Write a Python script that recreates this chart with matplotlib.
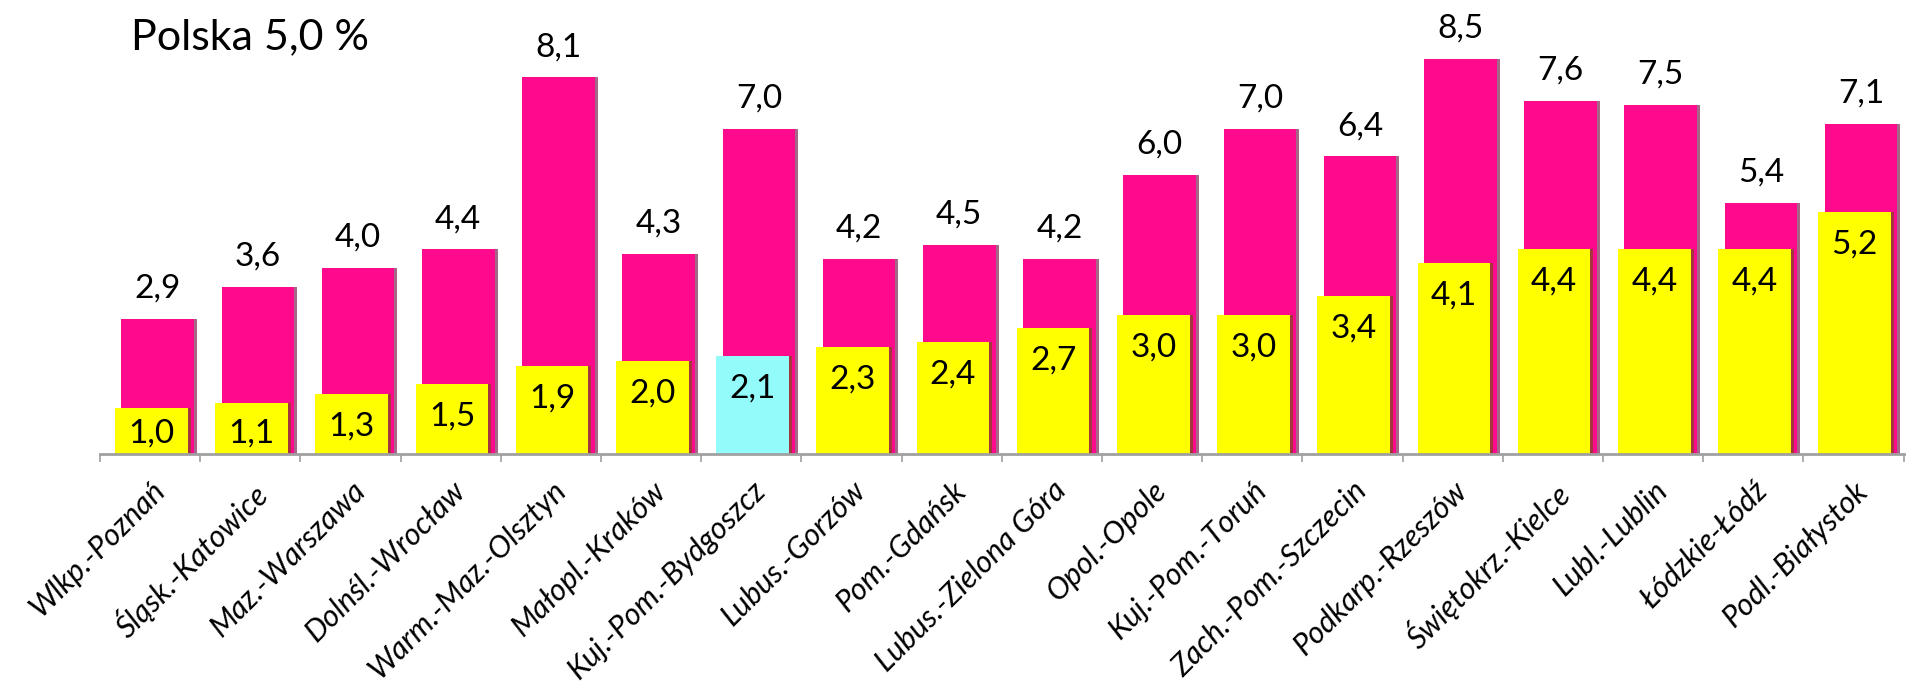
import matplotlib
matplotlib.use("Agg")
import matplotlib.pyplot as plt
from matplotlib.ticker import FixedLocator

regions = ['Wlkp.-Poznań', 'Śląsk.-Katowice', 'Maz.-Warszawa', 'Dolnśl.-Wrocław',
           'Warm.-Maz.-Olsztyn', 'Małopl.-Kraków', 'Kuj.-Pom.-Bydgoszcz', 'Lubus.-Gorzów',
           'Pom.-Gdańsk', 'Lubus.-Zielona Góra', 'Opol.-Opole', 'Kuj.-Pom.-Toruń',
           'Zach.-Pom.-Szczecin', 'Podkarp.-Rzeszów', 'Świętokrz.-Kielce', 'Lubl.-Lublin',
           'Łódzkie-Łódź', 'Podl.-Białystok']
pink_values = [2.9, 3.6, 4.0, 4.4, 8.1, 4.3, 7.0, 4.2, 4.5, 4.2, 6.0, 7.0, 6.4, 8.5, 7.6, 7.5, 5.4, 7.1]
yellow_values = [1.0, 1.1, 1.3, 1.5, 1.9, 2.0, 2.1, 2.3, 2.4, 2.7, 3.0, 3.0, 3.4, 4.1, 4.4, 4.4, 4.4, 5.2]
highlight_index = 6
title_text = 'Polska 5,0 %'

PINK = '#FF0A8C'
YELLOW = '#FFFF00'
CYAN = '#94FBFB'
FONT = ['Lato', 'DejaVu Sans']

W, H = 1908, 688
fig = plt.figure(figsize=(W / 100, H / 100), dpi=100)
ax_left, ax_bottom_px, ax_w = 100, 454, 1803.6
ax = fig.add_axes([ax_left / W, (H - ax_bottom_px) / H, ax_w / W, ax_bottom_px / H])

n = len(regions)
bw = 0.725
sh = 0.03
ymax = 454 / 46.5

def fmt(v):
    return f'{v:.1f}'.replace('.', ',')

pink_x = [i + 0.213 + bw / 2 for i in range(n)]
yel_x = [i + 0.15 + bw / 2 for i in range(n)]

# shadows
ax.bar([x + sh for x in pink_x], pink_values, width=bw, color='#6a0038', alpha=0.6, zorder=1, linewidth=0)
ax.bar(pink_x, pink_values, width=bw, color=PINK, zorder=2, linewidth=0)
ax.bar([x + sh for x in yel_x], yellow_values, width=bw, color='#5a5a00', alpha=0.55, zorder=3, linewidth=0)
ycolors = [CYAN if i == highlight_index else YELLOW for i in range(n)]
ax.bar(yel_x, yellow_values, width=bw, color=ycolors, zorder=4, linewidth=0)

for i in range(n):
    ax.text(pink_x[i], pink_values[i] + 0.65, fmt(pink_values[i]), ha='center', va='center',
            fontsize=24, family=FONT, color='black', zorder=6)
    ax.text(yel_x[i], max(yellow_values[i] - 0.7, 0.45), fmt(yellow_values[i]), ha='center', va='center',
            fontsize=24, family=FONT, color='black', zorder=6)

ax.set_xlim(0, n)
ax.set_ylim(0, ymax)
ax.set_yticks([])
for s in ['top', 'right', 'left']:
    ax.spines[s].set_visible(False)
ax.spines['bottom'].set_color('#A0A0A0')
ax.spines['bottom'].set_linewidth(2)
ax.spines['bottom'].set_zorder(5)

ax.xaxis.set_major_locator(FixedLocator([i + 0.5 for i in range(n)]))
ax.xaxis.set_minor_locator(FixedLocator(list(range(n + 1))))
ax.tick_params(axis='x', which='major', length=0, pad=16)
ax.tick_params(axis='x', which='minor', length=6, width=1.2, color='#A0A0A0', direction='out')
ax.set_xticklabels(regions, rotation=45, ha='right', va='top', rotation_mode='anchor',
                   fontsize=22, family=FONT, style='italic')

fig.text(131 / W, 1 - 37 / H, title_text, ha='left', va='center', fontsize=31, family=FONT)

fig.savefig('out.png', dpi=100, facecolor='white')
